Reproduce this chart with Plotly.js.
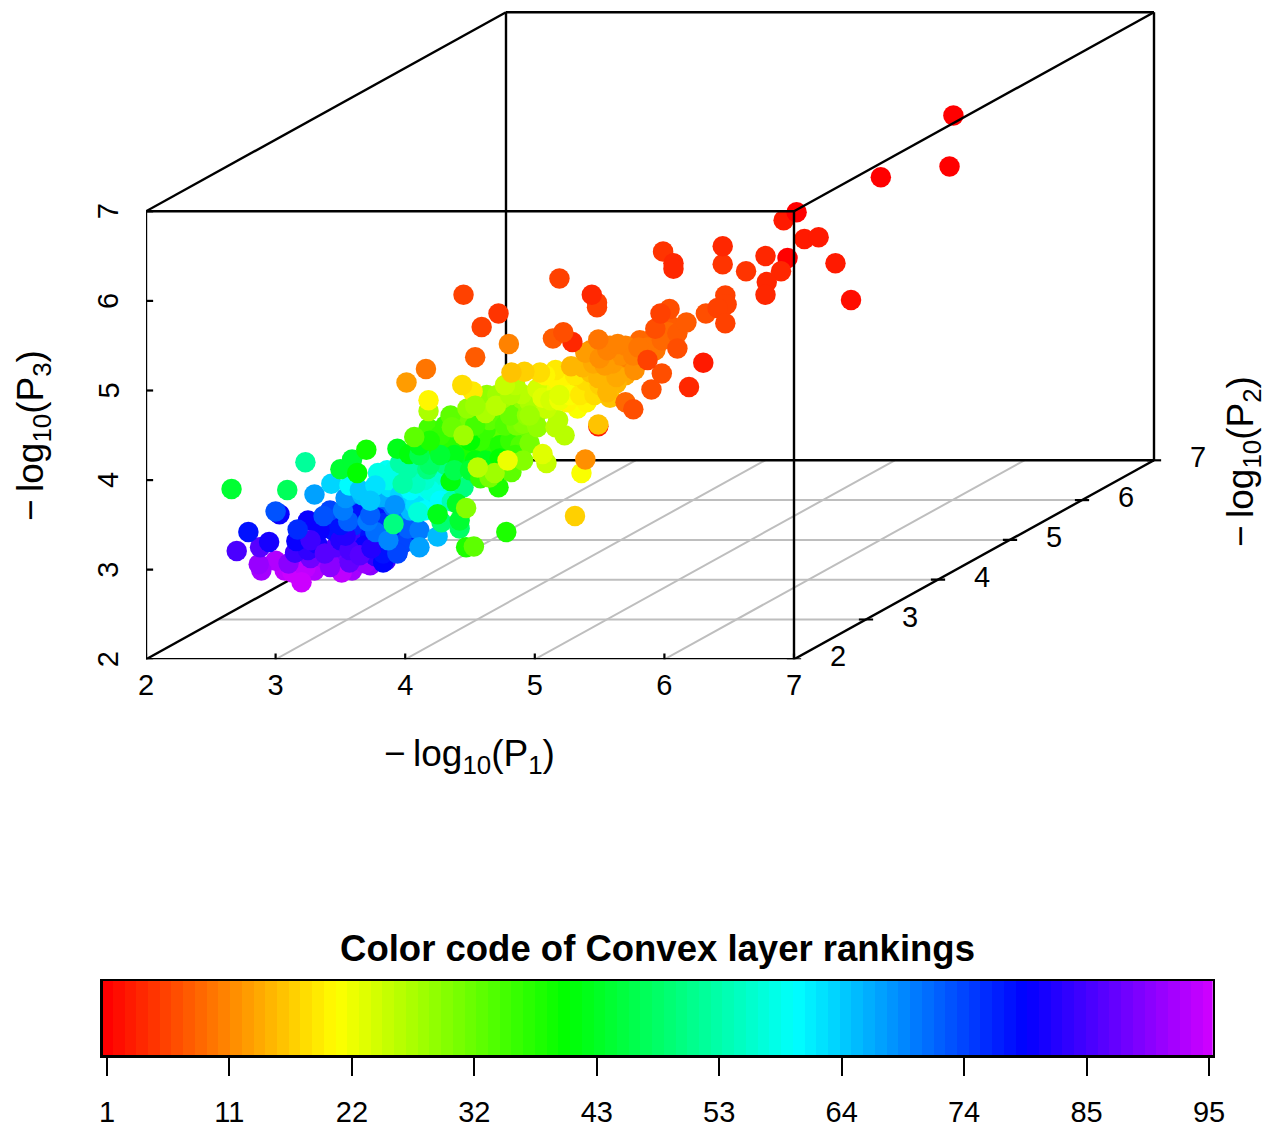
<!DOCTYPE html>
<html>
<head>
<meta charset="utf-8">
<script src="https://cdn.plot.ly/plotly-3.0.1.min.js"></script>
<style>html,body{margin:0;padding:0;background:#fff}</style>
</head>
<body>
<div id="chart" style="width:1266px;height:1127px"></div>
<script>
// Values on the P2 = 2 face of the oblique box: each point as it reads against the P1 and P3 scales.
const projP1 = [
3.30,3.07,3.59,3.73,3.34,3.54,3.50,3.19,3.42,3.85,
3.13,3.23,3.51,3.63,3.37,3.00,2.89,2.87,3.69,3.20,
3.42,3.10,3.27,3.55,3.57,3.46,2.88,2.70,3.15,3.61,
3.25,3.77,3.32,2.95,3.16,3.25,3.03,3.83,3.83,3.44,
3.61,3.73,3.50,3.69,3.84,3.57,3.34,3.92,3.96,4.04,
3.27,3.38,3.54,3.65,3.74,3.88,4.00,3.50,3.69,3.57,
3.77,3.42,3.61,3.92,3.78,3.65,2.79,3.83,3.17,3.94,
4.01,3.98,3.94,3.00,3.37,3.56,4.02,3.91,3.77,3.52,
3.71,4.11,3.87,3.54,4.11,3.30,3.84,3.98,3.81,4.25,
4.04,3.67,3.43,3.88,4.18,3.57,3.86,3.79,3.87,4.27,
3.65,3.96,4.11,3.77,3.92,4.08,4.23,4.35,3.73,4.15,
4.04,4.19,3.73,3.92,4.27,4.15,4.08,4.10,4.08,4.36,
3.98,4.02,3.96,3.23,4.31,4.17,4.45,3.91,4.28,4.42,
3.09,4.56,3.50,3.59,2.66,4.42,4.40,4.45,3.94,4.25,
4.03,4.35,3.63,3.70,4.78,4.47,4.17,4.72,4.79,4.65,
4.50,4.37,4.29,4.62,4.58,4.50,4.18,4.86,4.42,4.73,
4.27,4.54,4.65,4.38,4.19,4.11,4.73,4.81,4.89,4.73,
4.11,4.27,4.38,4.50,4.62,4.73,4.19,4.50,4.31,4.62,
4.73,4.85,4.85,4.96,4.65,4.77,4.58,4.46,4.35,4.92,
4.07,4.53,4.82,4.36,4.96,4.86,4.65,4.91,4.47,4.91,
4.81,4.54,5.04,5.00,4.58,5.02,4.94,4.48,4.63,4.45,
4.75,4.71,4.69,4.96,4.62,4.18,4.90,4.70,5.23,5.16,
5.18,4.56,5.09,5.09,5.09,5.02,5.06,5.06,4.79,5.17,
5.33,5.36,5.25,5.40,5.18,5.25,4.18,4.52,4.44,5.35,
4.81,4.54,4.96,5.12,5.19,5.27,5.35,5.46,5.39,5.31,
5.50,5.43,5.16,5.19,4.85,4.77,5.58,5.08,5.70,5.43,
5.04,4.92,4.82,5.31,5.49,5.49,5.63,5.58,5.56,5.49,
5.37,5.28,5.66,5.63,5.45,5.73,5.60,5.39,4.01,5.71,
5.81,5.89,5.66,5.54,5.81,6.04,5.97,5.77,5.58,5.70,
5.50,5.76,5.56,5.64,5.93,5.87,5.80,5.49,4.80,4.16,
5.29,6.03,5.98,5.70,6.10,6.17,5.14,4.54,6.10,5.93,
5.98,5.90,5.76,5.22,6.32,6.04,5.87,6.47,6.48,6.41,
6.47,4.45,5.19,4.59,5.48,5.48,5.97,4.72,5.44,6.63,
6.45,5.99,6.45,6.95,6.78,6.90,6.19,6.07,6.07,6.79,
6.78,6.30,7.08,7.19,7.32,6.92,7.44,7.02,7.67,8.20,
8.23,5.39];
const projP3 = [
2.99,2.99,2.99,3.05,3.24,3.05,3.10,3.16,3.16,3.10,
2.97,3.02,2.97,3.07,3.13,3.10,2.99,3.06,3.07,2.86,
3.03,3.07,3.13,3.19,3.08,3.25,3.25,3.21,3.19,3.36,
3.22,3.15,3.29,3.31,3.32,3.55,3.62,3.08,3.18,3.44,
3.50,3.38,3.33,3.27,3.44,3.22,3.44,3.38,3.55,3.55,
3.33,3.18,3.38,3.16,3.24,3.27,3.50,3.50,3.66,3.66,
3.66,3.66,3.72,3.61,3.58,3.63,3.42,3.52,3.45,3.19,
3.36,3.29,3.18,3.65,3.60,3.54,3.46,3.70,3.42,3.66,
3.54,3.44,3.33,3.80,3.25,3.84,3.81,3.75,3.81,3.37,
3.66,3.83,3.96,3.92,3.77,3.94,4.11,4.08,4.00,3.94,
3.89,3.83,3.83,3.94,3.72,3.72,4.05,3.89,3.61,3.66,
3.89,3.89,3.77,4.11,3.77,4.00,4.11,3.64,3.96,3.76,
3.96,4.12,4.19,4.20,4.17,4.12,3.92,3.51,3.53,3.46,
3.89,4.05,4.12,4.23,3.90,3.55,3.74,4.25,4.35,3.62,
4.29,3.99,4.08,4.34,3.42,3.25,4.33,3.92,4.33,4.30,
4.33,4.41,4.42,4.41,4.44,4.59,4.58,4.47,4.63,4.56,
4.50,4.22,4.17,4.28,4.17,4.28,4.39,4.44,4.39,4.11,
4.39,4.28,4.11,4.11,4.22,4.24,4.44,4.44,4.61,4.56,
4.72,4.78,4.28,4.56,4.67,4.61,4.02,4.72,4.72,4.83,
4.48,3.26,4.09,4.59,4.41,4.61,4.03,4.22,3.69,4.63,
4.72,4.61,4.78,4.67,4.83,4.59,4.72,4.80,4.95,4.50,
4.91,4.95,4.08,4.87,4.75,4.77,4.96,4.83,4.50,4.59,
4.67,4.14,4.95,4.80,4.19,5.02,4.92,4.29,4.22,5.02,
4.80,4.08,4.87,4.87,5.11,5.08,4.89,4.99,5.06,5.05,
4.95,4.83,4.72,4.89,4.89,4.95,4.95,4.95,5.11,5.17,
5.06,5.20,5.23,4.95,5.06,5.06,5.20,5.17,5.17,5.45,
5.20,5.21,5.20,3.60,4.60,4.62,5.08,4.92,4.98,5.14,
5.26,5.27,5.23,5.15,5.30,5.34,5.30,5.42,5.09,5.37,
5.39,5.56,5.39,5.28,5.56,5.73,5.67,5.23,5.50,5.50,
5.36,5.39,5.45,5.52,5.45,5.48,5.48,5.57,5.52,5.24,
5.54,5.65,5.56,4.87,5.64,5.76,5.58,5.37,5.47,5.69,
5.19,5.01,4.79,5.65,5.86,5.91,5.34,6.06,5.96,5.92,
5.75,6.07,6.25,5.71,5.93,5.98,5.86,5.86,6.07,6.33,
6.41,6.55,6.61,6.48,6.50,6.33,5.04,6.42,6.36,6.21,
6.07,5.31,6.69,6.71,6.42,6.90,6.01,6.99,7.38,7.50,
8.07,4.23];
const layerRank = [
93,94,92,90,86,91,90,88,90,84,
95,94,94,92,92,93,92,91,91,95,
90,90,88,88,87,86,86,85,84,84,
83,83,81,81,80,80,80,79,78,78,
76,78,82,80,76,85,80,74,72,70,
84,86,82,86,82,78,74,78,74,74,
72,74,70,70,78,78,78,76,76,76,
77,74,74,73,73,72,72,71,71,70,
70,70,69,68,67,67,66,66,66,65,
65,65,63,62,61,60,59,58,58,58,
64,63,60,62,68,62,56,58,72,60,
60,58,64,58,60,56,54,57,55,54,
53,53,53,52,50,50,50,50,49,48,
47,47,44,44,44,44,43,43,42,42,
41,41,40,39,38,38,38,38,38,38,
38,37,37,37,36,36,35,35,34,33,
36,41,42,42,48,46,38,36,34,40,
42,44,46,44,42,40,38,40,36,36,
34,32,36,32,33,34,36,31,33,29,
33,33,33,32,31,31,31,30,30,30,
32,35,27,28,29,29,29,29,29,28,
28,28,28,27,27,27,26,26,26,26,
26,26,25,25,25,24,23,23,22,22,
21,21,20,20,20,20,20,19,18,18,
27,28,28,24,22,21,19,18,18,19,
17,16,19,23,26,25,15,20,14,12,
18,17,16,17,3,16,15,16,15,15,
15,15,14,14,14,13,13,13,13,11,
10,9,12,13,9,8,8,12,11,11,
12,11,11,11,10,10,10,10,11,10,
4,9,9,9,8,8,8,8,7,7,
7,7,7,7,7,7,6,6,6,6,
6,6,6,6,6,6,6,5,4,5,
5,5,4,1,4,4,4,4,4,4,
4,3,3,3,3,3,2,1,1,1,
1,12];

const axisTicks = [2,3,4,5,6,7];
const innerTicks = [3,4,5,6];
const rankTickValues = [1,11.44,21.89,32.33,42.78,53.22,63.67,74.11,84.56,95];
const rankTickLabels = ['1','11','22','32','43','53','64','74','85','95'];
const nRanks = 95;
const lo = 2, hi = 7;

// oblique projection of the depth axis onto the P1/P3 plane
const depthX = 72/129.6, depthY = 39.8/89.6;
const proj = (p1,p2,p3) => [p1 + (p2-2)*depthX, p3 + (p2-2)*depthY];
const hueOf = r => (r-1)/94*288;
const colourOf = r => `hsl(${hueOf(r)},100%,50%)`;

function segs(list){
  const x=[],y=[];
  list.forEach(s=>{
    const a=proj(...s[0]), b=proj(...s[1]);
    x.push(a[0],b[0],null); y.push(a[1],b[1],null);
  });
  return {x,y};
}
const gridSegs = [
  ...innerTicks.map(k=>[[lo,k,lo],[hi,k,lo]]),
  ...innerTicks.map(k=>[[k,lo,lo],[k,hi,lo]])
];
const backSegs = [
  [[lo,lo,lo],[lo,hi,lo]],[[lo,hi,lo],[hi,hi,lo]],[[lo,hi,lo],[lo,hi,hi]],
  [[hi,hi,lo],[hi,hi,hi]],[[lo,hi,hi],[hi,hi,hi]],[[lo,lo,hi],[lo,hi,hi]],
  [[lo,lo,lo],[hi,lo,lo]],[[hi,lo,lo],[hi,hi,lo]],[[lo,lo,lo],[lo,lo,hi]]
];
const frontSegs = [
  [[lo,lo,hi],[hi,lo,hi]],[[hi,lo,lo],[hi,lo,hi]],[[hi,lo,hi],[hi,hi,hi]]
];
const tx=0.055, ty=0.065;
const tickSegs = [
  ...axisTicks.map(k=>[[k,lo,lo-ty],[k,lo,lo+ty]]),
  ...axisTicks.map(k=>[[lo-tx,lo,k],[lo+tx,lo,k]]),
  ...axisTicks.map(k=>[[hi-tx,k,lo],[hi+tx,k,lo]])
];

const lineTrace=(list,color,width)=>Object.assign(segs(list),{
  type:'scatter',mode:'lines',line:{color,width},hoverinfo:'skip',cliponaxis:false,xaxis:'x',yaxis:'y'});

const ranks=Array.from({length:nRanks},(_,i)=>i+1);
const traces=[
  lineTrace(gridSegs,'#bebebe',2),
  lineTrace(backSegs,'#000',2.4),
  lineTrace(tickSegs,'#000',2.2),
  {type:'scatter',mode:'markers',x:projP1,y:projP3,cliponaxis:false,xaxis:'x',yaxis:'y',
   marker:{size:20.5,color:layerRank.map(colourOf),line:{width:0}},hoverinfo:'skip'},
  lineTrace(frontSegs,'#000',2.4),
  {type:'bar',x:ranks,y:ranks.map(()=>1),width:1,xaxis:'x2',yaxis:'y2',
   marker:{color:ranks.map(colourOf),line:{width:0}},hoverinfo:'skip'}
];

const font={family:'"Liberation Sans",Arial,sans-serif',color:'#000',size:29};
const W=1266,H=1127;
const px=v=>v/W, py=v=>1-v/H;
const titleFont={...font,size:37};

const annotations=[
  ...axisTicks.map(k=>{const p=proj(hi,k,lo);return{x:p[0],y:p[1],xref:'x',yref:'y',text:String(k),showarrow:false,
     xanchor:'center',yanchor:'middle',xshift:44,yshift:3,font}}),
  ...axisTicks.map(k=>{const p=proj(lo,lo,k);return{x:p[0],y:p[1],xref:'x',yref:'y',text:String(k),showarrow:false,textangle:-90,
     xanchor:'center',yanchor:'middle',xshift:-38,font}}),
  {xref:'paper',yref:'paper',x:px(469),y:py(756),text:'\u2212\u2009log<sub>10</sub>(P<sub>1</sub>)',showarrow:false,
   xanchor:'center',yanchor:'middle',font:titleFont},
  {xref:'paper',yref:'paper',x:px(33),y:py(436),text:'\u2212\u2009log<sub>10</sub>(P<sub>3</sub>)',showarrow:false,textangle:-90,
   xanchor:'center',yanchor:'middle',font:titleFont},
  {xref:'paper',yref:'paper',x:px(1243),y:py(462),text:'\u2212\u2009log<sub>10</sub>(P<sub>2</sub>)',showarrow:false,textangle:-90,
   xanchor:'center',yanchor:'middle',font:titleFont}
];

const layout={
  width:W,height:H,margin:{l:0,r:0,t:0,b:0},paper_bgcolor:'#fff',plot_bgcolor:'rgba(0,0,0,0)',
  showlegend:false,bargap:0,font,
  title:{text:'<b>Color code of Convex layer rankings</b>',x:px(657.5),y:py(948),xref:'paper',yref:'paper',xanchor:'center',yanchor:'middle',font:{...font,size:36.5}},
  xaxis:{domain:[px(146),1],range:[2,2+(W-146)/129.6],tickmode:'array',tickvals:axisTicks,ticktext:axisTicks.map(String),
    showgrid:false,zeroline:false,showline:false,ticks:'',ticklabelstandoff:6,tickfont:font,anchor:'y'},
  yaxis:{domain:[py(659.3),1],range:[2,2+659.3/89.6],showgrid:false,zeroline:false,showline:false,ticks:'',showticklabels:false,anchor:'x'},
  xaxis2:{domain:[px(102.7),px(1212.7)],range:[1-(107-102.7)/11.72,95+(1212.7-1209)/11.72],tickmode:'array',tickvals:rankTickValues,ticktext:rankTickLabels,
    showgrid:false,zeroline:false,showline:true,mirror:true,linecolor:'#000',linewidth:2.5,ticks:'outside',ticklen:18,tickwidth:2,tickcolor:'#000',
    ticklabelstandoff:12,tickfont:font,anchor:'y2'},
  yaxis2:{domain:[py(1055),py(981)],range:[0,1],showgrid:false,zeroline:false,showline:true,mirror:true,linecolor:'#000',linewidth:2.5,
    ticks:'',showticklabels:false,anchor:'x2'},
  annotations
};
Plotly.newPlot('chart',traces,layout,{staticPlot:true,displayModeBar:false});
</script>
</body>
</html>
